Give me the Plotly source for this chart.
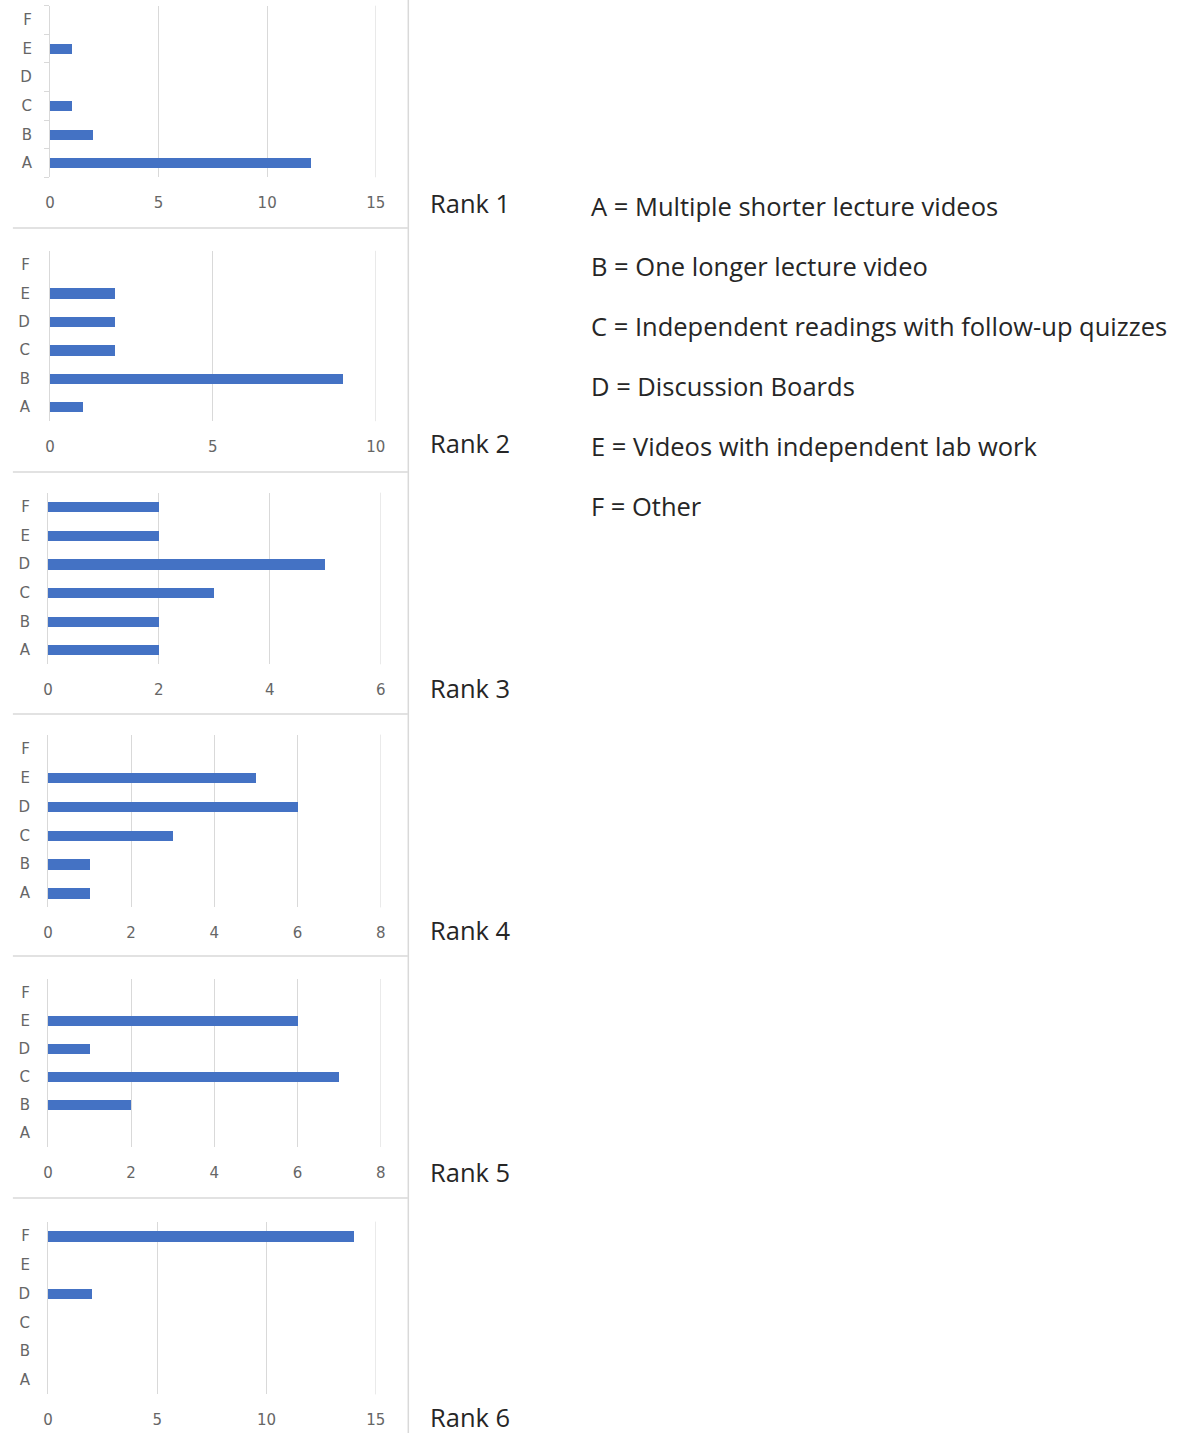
import plotly.graph_objects as go

categories = ["A", "B", "C", "D", "E", "F"]
rank1 = [12, 2, 1, 0, 1, 0]
rank2 = [1, 9, 2, 2, 2, 0]
rank3 = [2, 2, 3, 5, 2, 2]
rank4 = [1, 1, 3, 6, 5, 0]
rank5 = [0, 2, 7, 1, 6, 0]
rank6 = [0, 0, 0, 2, 0, 14]
series = [rank1, rank2, rank3, rank4, rank5, rank6]
x_max = [15, 10, 6, 8, 8, 15]
x_dtick = [5, 5, 2, 2, 2, 5]
rank_labels = ["Rank 1", "Rank 2", "Rank 3", "Rank 4", "Rank 5", "Rank 6"]
legend_lines = [
    "A = Multiple shorter lecture videos",
    "B = One longer lecture video",
    "C = Independent readings with follow-up quizzes",
    "D = Discussion Boards",
    "E = Videos with independent lab work",
    "F = Other",
]

W, H = 1182, 1433
# pixel geometry of panels: (x0, x1, yF, yA)
geom = [
    (46, 375, 20, 163),
    (46, 375, 265, 407),
    (44, 380, 507, 650),
    (44, 380, 749, 893),
    (44, 380, 993, 1133),
    (44, 375, 1236, 1380),
]
rank_y = [203, 443, 688, 930, 1172, 1417]

fig = go.Figure()
grey = "#666666"
tickfont = dict(family="DejaVu Sans", size=15, color=grey)
shapes = []
for i, vals in enumerate(series):
    x0, x1, yF, yA = geom[i]
    sp = (yA - yF) / 5
    top = yF - sp / 2
    bot = yA + sp / 2
    xa = "x" if i == 0 else f"x{i+1}"
    ya = "y" if i == 0 else f"y{i+1}"
    fig.add_trace(go.Bar(
        x=vals, y=categories, orientation="h", width=0.36,
        marker=dict(color="#4472C4", line=dict(width=0)),
        xaxis=xa, yaxis=ya, showlegend=False,
    ))
    xkey = "xaxis" if i == 0 else f"xaxis{i+1}"
    ykey = "yaxis" if i == 0 else f"yaxis{i+1}"
    fig.layout[xkey] = dict(
        domain=[(x0 - 0.5) / W, (x1 + 0.5) / W], range=[0, x_max[i]], dtick=x_dtick[i], tick0=0,
        anchor=ya, showgrid=True, gridcolor="#d9d9d9", gridwidth=1,
        zeroline=True, zerolinecolor="#d9d9d9", zerolinewidth=1,
        showline=False, ticks="", ticklabelstandoff=15,
        tickfont=tickfont, fixedrange=True,
    )
    yd = dict(
        domain=[1 - bot / H, 1 - top / H], range=[-0.5, 5.5], anchor=xa,
        type="category", categoryorder="array", categoryarray=categories,
        showgrid=False, zeroline=False, ticklabelstandoff=x0 - 27,
        tickfont=tickfont, fixedrange=True,
    )
    if i == 0:
        yd.update(showline=True, linecolor="#d9d9d9", linewidth=1,
                  ticks="outside", tickson="boundaries", ticklen=5, tickcolor="#d9d9d9")
        yd["ticklabelstandoff"] = x0 - 27 - 5
    else:
        yd.update(showline=False, ticks="")
    fig.layout[ykey] = yd
    # last gridline at the axis maximum (plotly drops it at the plot edge)
    shapes.append(dict(type="line", xref=xa, yref=f"{ya} domain",
                       x0=x_max[i], x1=x_max[i], y0=0, y1=1, layer="below",
                       line=dict(color="#d9d9d9", width=1)))

for yy in [228, 472, 714, 956, 1198]:
    shapes.append(dict(type="line", xref="paper", yref="paper",
                       x0=8 / W, x1=408 / W, y0=1 - yy / H, y1=1 - yy / H,
                       line=dict(color="#d9d9d9", width=1.5)))
shapes.append(dict(type="line", xref="paper", yref="paper",
                   x0=408.5 / W, x1=408.5 / W, y0=0, y1=1,
                   line=dict(color="#d9d9d9", width=1.5)))

annotations = []
for lbl, yy in zip(rank_labels, rank_y):
    annotations.append(dict(text=lbl, xref="paper", yref="paper", x=428 / W, y=1 - yy / H,
                            xanchor="left", yanchor="middle", showarrow=False,
                            font=dict(family="Open Sans", size=25.5, color="#262626")))
for k, line in enumerate(legend_lines):
    yy = 206 + 60 * k
    annotations.append(dict(text=line, xref="paper", yref="paper", x=592 / W, y=1 - yy / H,
                            xanchor="left", yanchor="middle", showarrow=False,
                            font=dict(family="Open Sans", size=25.5, color="#262626")))

fig.update_layout(
    width=W, height=H, margin=dict(l=0, r=0, t=0, b=0),
    paper_bgcolor="white", plot_bgcolor="white",
    shapes=shapes, annotations=annotations, bargap=0,
)
fig.write_html("out.html")
